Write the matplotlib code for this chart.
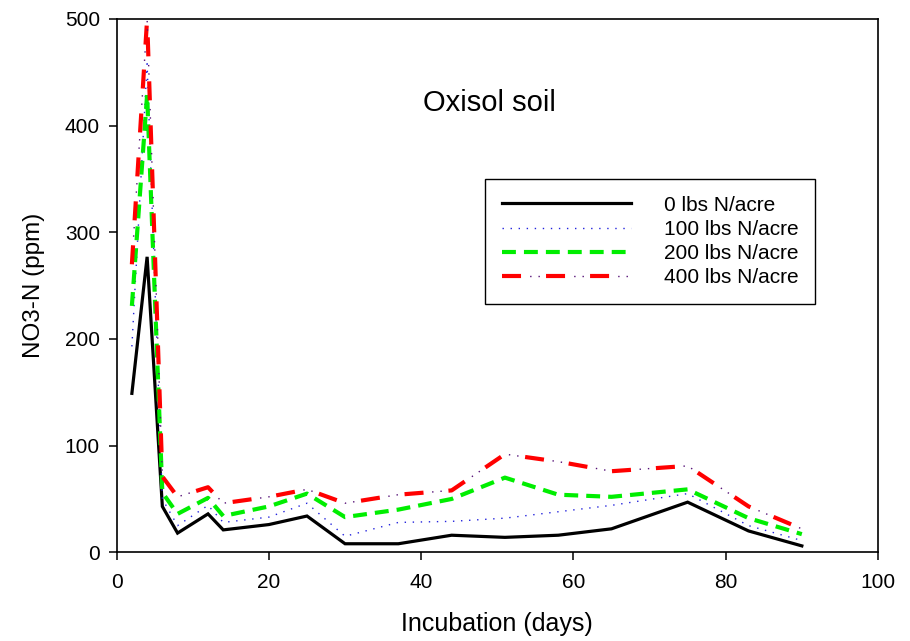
import matplotlib
matplotlib.use('Agg')
import matplotlib.pyplot as plt
from matplotlib.legend_handler import HandlerTuple

plt.rcParams['font.family'] = ['Liberation Sans', 'DejaVu Sans']
plt.rcParams['lines.scale_dashes'] = False

# incubation days
days = [2, 4, 6, 8, 12, 14, 20, 25, 30, 37, 44, 51, 58, 65, 75, 83, 90]

# NO3-N (ppm) for each N rate
n0 = [149, 277, 43, 18, 36, 21, 26, 34, 8, 8, 16, 14, 16, 22, 47, 20, 6]
n100 = [193, 458, 50, 25, 44, 28, 33, 46, 15, 28, 29, 32, 38, 44, 55, 25, 11]
n200 = [231, 429, 56, 36, 51, 34, 43, 55, 33, 40, 50, 70, 54, 52, 59, 32, 17]
n400 = [270, 500, 71, 52, 61, 46, 52, 59, 46, 54, 58, 92, 85, 76, 81, 43, 22]

labels = ['0 lbs N/acre', '100 lbs N/acre', '200 lbs N/acre', '400 lbs N/acre']

fig = plt.figure(figsize=(9.1, 6.41), dpi=100)
ax = fig.add_axes([0.1282, 0.1384, 0.8366, 0.832])

h0, = ax.plot(days, n0, color='black', lw=2.3, solid_joinstyle='miter')
h1, = ax.plot(days, n100, color='#2222dd', lw=1.0, linestyle=(0, (1.0, 4.8)))
h2, = ax.plot(days, n200, color='#00ee00', lw=3.0, linestyle=(0, (10.0, 5.8)))
# 400 lbs: thick red dashes with thin dark dots in between
h3a, = ax.plot(days, n400, color='red', lw=3.0, linestyle=(0, (13.7, 18.0)))
h3b, = ax.plot(days, n400, color='#551177', lw=1.0,
               linestyle=(11.8, (1.0, 5.0, 1.0, 24.7)))

ax.set_xlim(0, 100)
ax.set_ylim(0, 500)
ax.set_xticks([0, 20, 40, 60, 80, 100])
ax.set_yticks([0, 100, 200, 300, 400, 500])
ax.tick_params(direction='out', length=6, width=1.1, labelsize=15,
               top=False, right=False)
ax.tick_params(axis='x', pad=9)
ax.tick_params(axis='y', pad=6)
for s in ax.spines.values():
    s.set_linewidth(1.2)

ax.set_xlabel('Incubation (days)', fontsize=18, labelpad=14)
ax.set_ylabel('NO3-N (ppm)', fontsize=17.5, labelpad=14)

ax.text(48.9, 421, 'Oxisol soil', fontsize=21, ha='center', va='center')

leg = ax.legend([h0, h1, h2, (h3a, h3b)], labels,
                handler_map={tuple: HandlerTuple(ndivide=1)},
                loc='upper left', bbox_to_anchor=(485 / 910, 1 - 179 / 641),
                bbox_transform=fig.transFigure, borderaxespad=0,
                fontsize=15, handlelength=6.2, handletextpad=1.6,
                labelspacing=0.25, borderpad=0.8, fancybox=False,
                framealpha=1, edgecolor='black')
leg.get_frame().set_linewidth(1.0)

fig.savefig('out.png', dpi=100)
